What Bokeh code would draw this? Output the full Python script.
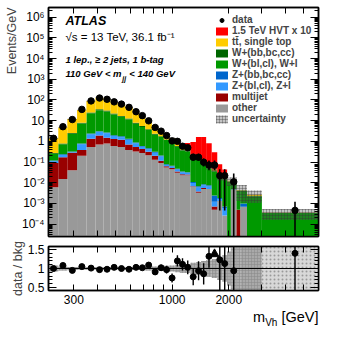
import math
import numpy as np
from bokeh.plotting import figure
from bokeh.layouts import column
from bokeh.models import (Range1d, FixedTicker, LogAxis, LinearAxis, Label, Legend,
                          LegendItem, Span, CustomJSTickFormatter, Title)
from bokeh.embed import file_html
from bokeh.resources import INLINE

nan = float("nan")

# ---------------- data ----------------
bin_edges = [220, 248, 277, 312, 350, 391, 431, 470, 513, 562, 617, 668, 720, 780, 844,
             903, 965, 1033, 1100, 1170, 1250, 1338, 1425, 1516, 1623, 1737, 1846, 1960,
             2050, 2200, 2300, 2500, 3000, 6000]

data_val = [1.4, 5.1, 11.3, 35, 90, 124, 108, 81, 63, 44, 27, 17.5, 9.8, 4.7, 3.1, 1.9,
            1.05, 1.0, 0.58, 0.49, 0.17, 0.17, 0.098, 0.071, 0.071, 0.022, 0.022, nan,
            0.011, nan, nan, nan, 4.6e-4]
data_lo = [1.3, 4.8, 10.8, 34, 88, 121, 105, 79, 61, 42.5, 26, 16.8, 9.3, 4.4, 2.85, 1.7,
           0.85, 0.8, 0.45, 0.37, 0.12, 0.12, 0.06, 0.04, 0.04, 4.5e-4, 4.5e-4, nan,
           1e-6, nan, nan, nan, 1e-6]
data_hi = [1.5, 5.4, 11.8, 36, 92, 127, 111, 83, 65, 45.5, 28, 18.2, 10.3, 5.0, 3.35, 2.1,
           1.3, 1.25, 0.75, 0.65, 0.25, 0.25, 0.15, 0.12, 0.12, 0.045, 0.045, nan,
           0.028, nan, nan, nan, 1.2e-3]

other = [0.006, 0.015, 0.04, 0.2, 0.54, 0.70, 0.78, 0.6, 0.54, 0.38, 0.32, 0.27, 0.21,
         0.13, 0.09, 0.054, 0.045, 0.03, 0.023, 0.023, 0.0063, 0.0033, 0.005, 0.005,
         5e-4, 0.0013, 2.6e-4, 0, 0.0044, 0, 6.8e-4, 0, 0]
multijet = [0.084, 0.155, 0.24, 0.18, 0.8, 1.2, 0.7, 0.7, 0.65, 0.32, 0.22, 0.16, 0.1,
            0.07, 0.025, 0.008, 0.006, 0.005, 0.003, 0.002, 5e-4, 5e-4, 5e-4, 0, 2e-4,
            0, 0, 0, 2e-4, 5e-4, 0, 0, 0]
z_light = [0.02, 0.05, 0.02, 0.34, 0.87, 1.0, 1.0, 0.52, 0.4, 0.5, 0.26, 0.12, 0.11,
           0.08, 0.07, 0.01, 0.01, 0.008, 0.006, 0.005, 0.003, 0.002, 0.002, 0.0015,
           5e-4, 3e-4, 3.4e-4, 0, 1e-4, 0, 0, 0, 0]
z_heavy = [0.01, 0.02, 0.02, 0.06, 0.2, 0.2, 0.2, 0.15, 0.15, 0.13, 0.07, 0.05, 0.04,
           0.03, 0.02, 0.006, 0.005, 0.004, 0.003, 0.002, 0.001, 0.001, 0.001, 0.001,
           0.0012, 2e-4, 1e-4, 0, 1e-4, 0, 3e-4, 0, 0]
w_light = [0.13, 0.48, 2.0, 6.5, 20.6, 29, 25, 18, 13.7, 10.2, 6.3, 4.4, 3.1, 1.8, 1.4,
           1.07, 0.75, 0.5, 0.33, 0.3, 0.19, 0.12, 0.085, 0.042, 0.033, 0.015, 0.014,
           0.011, 0.006, 0.0035, 0.003, 0.0022, 3.4e-4]
w_heavy = [0.02, 0.06, 0.2, 0.6, 2, 3, 3, 2, 1.5, 1.1, 0.7, 0.5, 0.3, 0.2, 0.15, 0.09,
           0.07, 0.05, 0.03, 0.03, 0.01, 0.01, 0.007, 0.004, 0.003, 0.001, 0.001, 8e-4,
           5e-4, 2e-4, 2e-4, 1e-4, 0]
ttbar = [1.13, 3.9, 9.4, 25, 64, 93, 79, 57, 46, 32, 18, 11.7, 5.1, 2.9, 1.25, 0.72,
         0.55, 0.23, 0.125, 0.12, 0.01, 0.043, 0.015, 0.003, 0.0066, 5e-4, 0.003, 7e-4,
         5e-4, 3e-4, 2e-4, 3e-4, 1e-5]
hvt_x10 = [0, 0, 0, 0, 0, 0, 0, 0, 0, 0, 0, 0, 0, 0, 0, 0, 0.005, 0.01, 0.04, 0.35, 0.7,
           1.42, 1.5, 0.75, 0.25, 0.06, 0.025, 0, 0, 0, 0, 0, 0]
bkg_unc = [0.08, 0.05, 0.04, 0.03, 0.03, 0.03, 0.03, 0.03, 0.03, 0.03, 0.04, 0.04, 0.05,
           0.05, 0.06, 0.07, 0.08, 0.1, 0.12, 0.12, 0.15, 0.17, 0.2, 0.22, 0.25, 0.3,
           0.35, 0.45, 0.6, 0.7, 0.75, 0.6, 0.55]

ratio = [1.0, 1.08, 0.95, 1.05, 1.01, 0.97, 0.98, 1.03, 1.0, 0.98, 1.03, 1.02, 1.09, 0.91,
         1.02, 0.97, 0.75, 1.2, 1.11, 1.03, 0.78, 0.94, 0.86, 1.32, 1.6, 1.23, 1.13, nan,
         0.94, nan, nan, nan, 1.4]
ratio_err = [0.06, 0.04, 0.03, 0.02, 0.02, 0.02, 0.02, 0.02, 0.02, 0.03, 0.03, 0.04, 0.05,
             0.07, 0.08, 0.1, 0.12, 0.15, 0.16, 0.18, 0.22, 0.25, 0.28, 0.3, 0.35, 0.9,
             0.9, nan, 1.0, nan, nan, nan, 1.0]

y_ticks_main = [1e-4, 1e-3, 1e-2, 1e-1, 1, 10, 1e2, 1e3, 1e4, 1e5, 1e6]
x_ticks = [300, 400, 500, 600, 700, 800, 900, 1000, 2000, 3000, 4000, 5000]
x_tick_labels = {300: "300", 1000: "1000", 2000: "2000"}
ratio_ticks = [0.5, 1.0, 1.5]
ratio_tick_labels = {0.5: "0.5", 1.0: "1", 1.5: "1.5"}

legend_names = ["data", "1.5 TeV HVT x 10", "tt\u0304, single top", "W+(bb,bc,cc)",
                "W+(bl,cl), W+l", "Z+(bb,bc,cc)", "Z+(bl,cl), Z+l", "multijet", "other",
                "uncertainty"]

# ---------------- styling ----------------
FONT = "Liberation Sans"
COL = {"other": "#999999", "multijet": "#990000", "z_light": "#3399ff",
       "z_heavy": "#0066cc", "w_light": "#009900", "w_heavy": "#006600",
       "ttbar": "#ffcc00", "hvt": "#ff0000"}

lo = np.array(bin_edges[:-1], float)
hi = np.array(bin_edges[1:], float)
ctr = 0.5 * (lo + hi)
n = len(lo)

sup = str.maketrans("-0123456789", "\u207b\u2070\u00b9\u00b2\u00b3\u2074\u2075\u2076\u2077\u2078\u2079")


def ylab(v):
    k = int(round(math.log10(v)))
    if k == 0:
        return "1"
    if k == 1:
        return "10"
    return "10" + str(k).translate(sup)


blank = CustomJSTickFormatter(code="return ''")


def style(ax, tin=8, mtin=4, labels=True):
    ax.major_tick_in = tin
    ax.major_tick_out = 0
    ax.minor_tick_in = mtin
    ax.minor_tick_out = 0
    ax.axis_line_color = "black"
    ax.axis_line_width = 1.5
    ax.major_tick_line_color = "black"
    ax.minor_tick_line_color = "black"
    ax.major_label_text_font = FONT
    ax.major_label_text_font_size = "12px"
    ax.major_label_text_color = "black"
    ax.major_label_standoff = 4 if labels else 0
    if not labels:
        ax.formatter = blank


y_main_ticker = FixedTicker(ticks=y_ticks_main,
                            minor_ticks=[m * 10.0 ** k for k in range(-5, 7) for m in range(2, 10)])
x_ticker = FixedTicker(ticks=x_ticks, minor_ticks=[])
r_ticker = FixedTicker(ticks=ratio_ticks,
                       minor_ticks=[0.4 + 0.1 * i for i in range(13)])

FH = 229  # main frame height

# ---------------- main panel ----------------
p = figure(width=335, height=FH + 12, x_axis_type="log", y_axis_type="log",
           x_range=Range1d(bin_edges[0], bin_edges[-1]),
           y_range=Range1d(10 ** -4.6, 10 ** 6.47),
           output_backend="svg", toolbar_location=None,
           min_border_left=48, min_border_right=17, min_border_top=7, min_border_bottom=5)
p.grid.visible = False
p.outline_line_color = "black"
p.outline_line_width = 1.5

layers = [("other", other), ("multijet", multijet), ("z_light", z_light),
          ("z_heavy", z_heavy), ("w_light", w_light), ("w_heavy", w_heavy),
          ("ttbar", ttbar), ("hvt", hvt_x10)]
cum = np.full(n, 1e-7)
rend = {}
bkg = None
for name, vals in layers:
    top = cum + np.array(vals, float)
    rend[name] = p.quad(left=lo, right=hi, bottom=cum.copy(), top=top,
                        fill_color=COL[name], line_color=None)
    cum = top
    if name == "ttbar":
        bkg = top.copy()

unc = np.array(bkg_unc)
r_unc = p.quad(left=lo, right=hi, bottom=np.maximum(bkg * (1 - unc), 1e-7),
               top=bkg * (1 + unc), fill_color="#555555", fill_alpha=0.35, line_color=None,
               hatch_pattern="+", hatch_color="#333333", hatch_alpha=0.35, hatch_scale=3)

p.segment(x0=ctr, y0=data_lo, x1=ctr, y1=data_hi, line_color="black", line_width=1.6)
r_data = p.scatter(ctr, data_val, size=6.5, marker="circle", color="black")

p.xaxis.ticker = x_ticker
style(p.xaxis[0], 6, 3, labels=False)
p.yaxis.ticker = y_main_ticker
p.yaxis.major_label_overrides = {v: ylab(v) for v in y_ticks_main}
style(p.yaxis[0], 8, 4)

ax_r = LogAxis(ticker=y_main_ticker)
style(ax_r, 8, 4, labels=False)
p.add_layout(ax_r, "right")
ax_t = LogAxis(ticker=x_ticker)
style(ax_t, 6, 3, labels=False)
p.add_layout(ax_t, "above")

items = [LegendItem(label=legend_names[0], renderers=[r_data]),
         LegendItem(label=legend_names[1], renderers=[rend["hvt"]]),
         LegendItem(label=legend_names[2], renderers=[rend["ttbar"]]),
         LegendItem(label=legend_names[3], renderers=[rend["w_heavy"]]),
         LegendItem(label=legend_names[4], renderers=[rend["w_light"]]),
         LegendItem(label=legend_names[5], renderers=[rend["z_heavy"]]),
         LegendItem(label=legend_names[6], renderers=[rend["z_light"]]),
         LegendItem(label=legend_names[7], renderers=[rend["multijet"]]),
         LegendItem(label=legend_names[8], renderers=[rend["other"]]),
         LegendItem(label=legend_names[9], renderers=[r_unc])]
leg = Legend(items=items, location=(166, FH - 117), border_line_color=None,
             background_fill_alpha=0, label_text_font=FONT, label_text_font_style="bold",
             label_text_font_size="10px", glyph_width=15, glyph_height=10,
             label_height=10, label_standoff=3, spacing=0, padding=0, margin=0)
p.add_layout(leg)


def txt(fig, x, y, s, size, style="normal", **kw):
    fig.add_layout(Label(x=x, y=y, x_units="screen", y_units="screen", text=s,
                         text_font=FONT, text_font_size=size, text_font_style=style,
                         text_color="black", **kw))


txt(p, 17, FH - 20, "ATLAS", "12.5px", "bold italic")
txt(p, 17, FH - 35, "\u221as = 13 TeV, 36.1 fb\u207b\u00b9", "11.5px")
txt(p, 17, FH - 57, "1 lep., \u2265 2 jets, 1 b-tag", "9.5px", "bold italic")
txt(p, 17, FH - 71, "110 GeV < m", "9.5px", "bold italic")
txt(p, 73.8, FH - 74, "jj", "7px", "bold italic")
txt(p, 80.8, FH - 71, "< 140 GeV", "9.5px", "bold italic")

p.add_layout(Title(text="Events/GeV", align="right", text_font=FONT,
                   text_font_size="12.5px", text_font_style="normal", standoff=0,
                   offset=0), "left")

# ---------------- ratio panel ----------------
q = figure(width=335, height=67, x_axis_type="log", x_range=p.x_range,
           y_range=Range1d(0.42, 1.58), output_backend="svg", toolbar_location=None,
           min_border_left=48, min_border_right=17, min_border_top=5, min_border_bottom=18)
q.grid.visible = False
q.outline_line_color = "black"
q.outline_line_width = 1.5

dotted = lo >= 3000
solid = ~dotted
q.quad(left=lo[solid], right=hi[solid], bottom=1 - unc[solid], top=1 + unc[solid],
       fill_color="#9a9a9a", fill_alpha=0.85, line_color=None,
       hatch_pattern="+", hatch_color="#888888", hatch_alpha=0.5, hatch_scale=3)
q.quad(left=lo[dotted], right=hi[dotted], bottom=1 - unc[dotted] * 2, top=1 + unc[dotted] * 2,
       fill_color="#d8d8d8", fill_alpha=1, line_color=None,
       hatch_pattern=".", hatch_color="#999999", hatch_alpha=1, hatch_scale=4)
q.add_layout(Span(location=1.0, dimension="width", line_color="black", line_width=1))

rat = np.array(ratio, float)
rerr = np.array(ratio_err, float)
top_lim = q.y_range.end
inr = ~(rat > top_lim)
q.segment(x0=ctr[inr], y0=(rat - rerr)[inr], x1=ctr[inr], y1=(rat + rerr)[inr],
          line_color="black", line_width=1.4)
q.scatter(ctr[inr], rat[inr], size=6, marker="circle", color="black")
off = rat > top_lim
q.scatter(ctr[off], np.full(off.sum(), top_lim - 0.2), size=9, marker="triangle",
          color="black")

q.xaxis.ticker = x_ticker
q.xaxis.major_label_overrides = {t: x_tick_labels.get(t, "") for t in x_ticks}
style(q.xaxis[0], 6, 3)
q.yaxis.ticker = r_ticker
q.yaxis.major_label_overrides = ratio_tick_labels
style(q.yaxis[0], 8, 4)
ax_r2 = LinearAxis(ticker=r_ticker)
style(ax_r2, 8, 4, labels=False)
q.add_layout(ax_r2, "right")
ax_t2 = LogAxis(ticker=x_ticker)
style(ax_t2, 6, 3, labels=False)
q.add_layout(ax_t2, "above")

q.add_layout(Title(text="data / bkg", align="center", text_font=FONT,
                   text_font_size="12.5px", text_font_style="normal", standoff=0,
                   offset=0), "left")

# ---------------- x-axis title strip ----------------
r = figure(width=335, height=20, x_range=Range1d(0, 1), y_range=Range1d(0, 1),
           output_backend="svg", toolbar_location=None, x_axis_location=None,
           y_axis_location=None, min_border_left=48, min_border_right=17,
           min_border_top=0, min_border_bottom=0)
r.grid.visible = False
r.outline_line_color = None
txt(r, 204.6, 4, "m", "14.5px")
txt(r, 216.7, 1, "Vh", "10px")
txt(r, 232.9, 4, "[GeV]", "14.5px")

layout = column(p, q, r, spacing=0)
open("out.html", "w").write(file_html(layout, INLINE))
